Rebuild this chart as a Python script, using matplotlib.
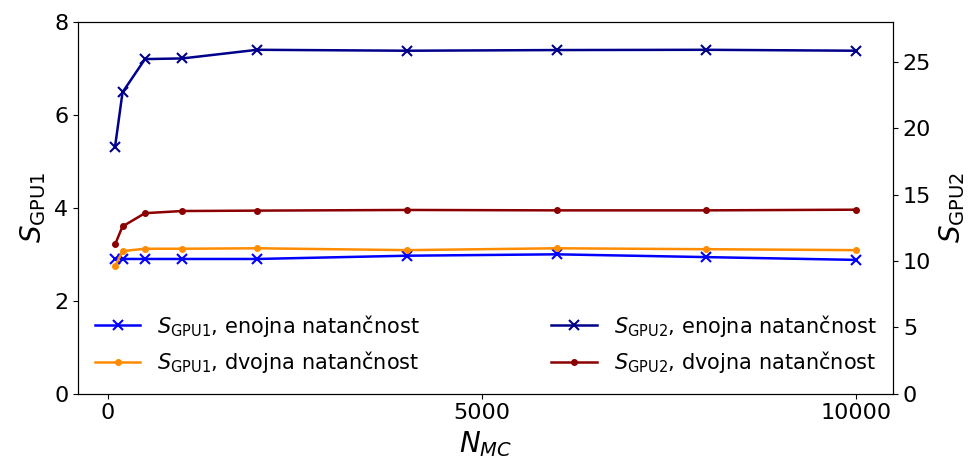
import numpy as np
import matplotlib
matplotlib.use("Agg")
import matplotlib.pyplot as plt

# stevilo MC korakov
n_mc = [100, 200, 500, 1000, 2000, 4000, 6000, 8000, 10000]

# pohitritve GPU1 (leva os)
s_gpu1_single = [2.90, 2.90, 2.90, 2.90, 2.90, 2.97, 3.00, 2.94, 2.88]
s_gpu1_double = [2.74, 3.07, 3.12, 3.12, 3.13, 3.09, 3.13, 3.11, 3.09]

# pohitritve GPU2 (desna os)
s_gpu2_single = [18.6, 22.7, 25.2, 25.25, 25.9, 25.83, 25.88, 25.9, 25.83]
s_gpu2_double = [11.24, 12.6, 13.6, 13.76, 13.79, 13.84, 13.81, 13.81, 13.86]

lbl_single = "enojna natančnost"
lbl_double = "dvojna natančnost"

fig = plt.figure(figsize=(9.75, 4.66), dpi=100)
ax = fig.add_axes([0.080, 0.155, 0.836, 0.798])
ax2 = ax.twinx()

l1, = ax.plot(n_mc, s_gpu1_single, "-x", color="blue", markersize=7, mew=1.5, lw=1.8,
              label=r"$S_{\mathrm{GPU1}}$, " + lbl_single)
l2, = ax.plot(n_mc, s_gpu1_double, "-", marker=".", color="darkorange", markersize=8, lw=1.8,
              label=r"$S_{\mathrm{GPU1}}$, " + lbl_double)
l3, = ax2.plot(n_mc, s_gpu2_single, "-x", color="darkblue", markersize=7, mew=1.5, lw=1.8,
               label=r"$S_{\mathrm{GPU2}}$, " + lbl_single)
l4, = ax2.plot(n_mc, s_gpu2_double, "-", marker=".", color="darkred", markersize=8, lw=1.8,
               label=r"$S_{\mathrm{GPU2}}$, " + lbl_double)

ax.set_ylim(0, 8)
ax.set_yticks([0, 2, 4, 6, 8])
ax2.set_ylim(0, 28)
ax.set_xticks([0, 5000, 10000])

ax.set_xlabel(r"$N_{MC}$", fontsize=20)
ax.set_ylabel(r"$S_{\mathrm{GPU1}}$", fontsize=20)
ax2.set_ylabel(r"$S_{\mathrm{GPU2}}$", fontsize=20)
ax.tick_params(labelsize=16)
ax2.tick_params(labelsize=16)

ax.legend(handles=[l1, l2, l3, l4], ncol=2, frameon=False, fontsize=15,
          loc="lower center", bbox_to_anchor=(0.5, 0.0), columnspacing=6.3,
          handlelength=2.2)

fig.savefig("out.png", dpi=100)
